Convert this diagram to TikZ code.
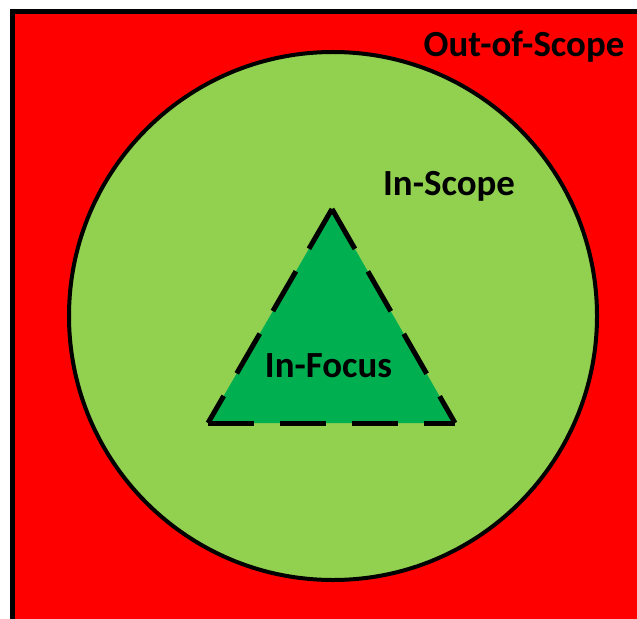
\documentclass[tikz,border=0pt]{standalone}
\usepackage{fontspec}
\setmainfont{Carlito}
\definecolor{outred}{HTML}{FF0000}
\definecolor{scopegreen}{HTML}{92D050}
\definecolor{focusgreen}{HTML}{00B050}
\begin{document}
\begin{tikzpicture}[x=1bp,y=-1bp,
  lbl/.style={font=\fontsize{37}{40}\selectfont\bfseries, text=black, inner sep=0pt, anchor=base}]
\useasboundingbox (0,0) rectangle (637,619);
\fill[white] (0,0) rectangle (637,619);
\begin{scope}
\clip (0,0) rectangle (637,619);
\draw[line width=5bp, fill=outred] (12.5,12) rectangle (660,640);
\end{scope}
\draw[line width=4bp, fill=scopegreen] (333,316) circle (264);
\coordinate (apex) at (332,209);
\coordinate (bl) at (208,423);
\coordinate (br) at (455,423);
\fill[focusgreen] (apex) -- (br) -- (bl) -- cycle;
\draw[line width=5bp, dash pattern=on 46bp off 26bp] (bl) -- (br);
\draw[line width=5bp, dash pattern=on 46bp off 26bp] (apex) -- (br);
\draw[line width=5bp, dash pattern=on 46bp off 26bp] (apex) -- (bl);
\node[lbl] (out) at (524,57) {Out-of-Scope};
\node[lbl] (in) at (449,195) {In-Scope};
\node[lbl] (focus) at (328.5,377) {In-Focus};
\end{tikzpicture}
\end{document}
